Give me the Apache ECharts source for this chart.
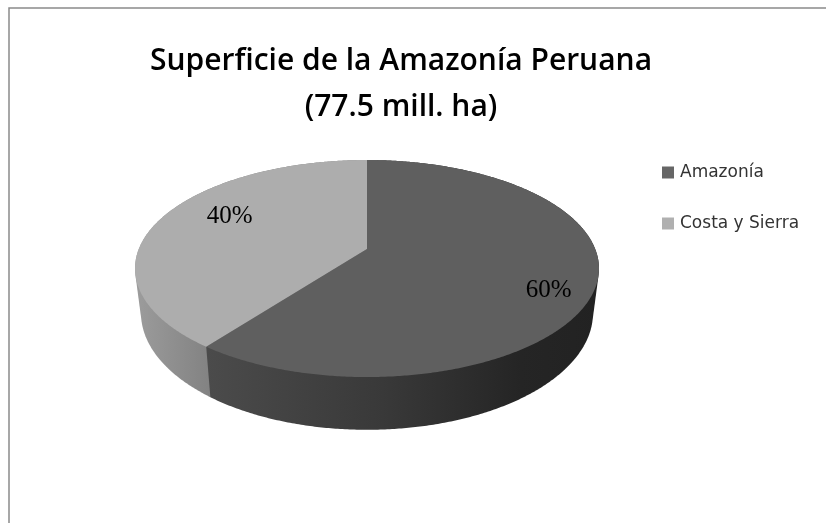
<!DOCTYPE html>
<html><head><meta charset="utf-8">
<style>html,body{margin:0;padding:0;background:#fff}#c{width:826px;height:523px}</style>
<script src="https://cdn.jsdelivr.net/npm/echarts@6/dist/echarts.min.js"></script>
</head><body><div id="c"></div>
<script>
const titleLines = ['Superficie de la Amazonía Peruana', '(77.5 mill. ha)'];
const categories = ['Amazonía', 'Costa y Sierra'];
const values = [77.5, 51];
const topColors = ['#5f5f5f', '#adadad'];
const legendColors = ['#666666', '#b0b0b0'];
const wallStops = [
  [[0, '#4b4b4b'], [0.45, '#393939'], [0.8, '#252525'], [1, '#222222']],
  [[0, '#9c9c9c'], [1, '#828282']]
];
const labelRadius = [0.83, 0.72];
const labelTurnDeg = [8, 9];

// Perspective projection of the pie's top and bottom discs
const TOP = {cx: 367, y0: 249, A: 228.2, B: 105, a: 0.18};
const BOT = {cx: 367, y0: 292, A: 222.3, B: 113, a: 0.18};
function project(p, r, deg) {
  const t = deg * Math.PI / 180, u = r * Math.sin(t), v = -r * Math.cos(t), w = 1 - p.a * v;
  return [p.cx + p.A * u / w, p.y0 + p.B * v / w];
}
function arc(p, from, to) {
  const pts = [], n = Math.ceil(Math.abs(to - from) * 2);
  for (let i = 0; i <= n; i++) pts.push(project(p, 1, from + (to - from) * i / n));
  return pts;
}
function convexHull(points) {
  const pts = points.slice().sort((a, b) => a[0] - b[0] || a[1] - b[1]);
  const cross = (o, a, b) => (a[0] - o[0]) * (b[1] - o[1]) - (a[1] - o[1]) * (b[0] - o[0]);
  const half = list => {
    const h = [];
    list.forEach(p => {
      while (h.length > 1 && cross(h[h.length - 2], h[h.length - 1], p) <= 0) h.pop();
      h.push(p);
    });
    h.pop();
    return h;
  };
  return half(pts).concat(half(pts.slice().reverse()));
}
const total = values.reduce((s, v) => s + v, 0);
function sliceStart(idx) {
  return values.slice(0, idx).reduce((s, v) => s + v, 0) / total * 360;
}
function renderSlice(idx) {
  return function (params, api) {
    const from = sliceStart(idx), to = from + api.value(0) / total * 360;
    const topArc = arc(TOP, from, to), botArc = arc(BOT, from, to);
    const wall = convexHull(topArc.concat(botArc));
    const front = topArc.concat(botArc).filter(p => p[1] > TOP.y0);
    const xs = wall.map(p => p[0]);
    const visFrom = idx === 0 ? Math.min.apply(null, front.map(p => p[0])) : Math.min.apply(null, xs);
    const visTo = idx === 0 ? Math.max.apply(null, xs) : Math.max.apply(null, front.map(p => p[0]));
    const grad = new echarts.graphic.LinearGradient(visFrom, 0, visTo, 0,
      wallStops[idx].map(s => ({offset: s[0], color: s[1]})), true);
    const mid = (from + to) / 2 + labelTurnDeg[idx];
    const lp = project(TOP, labelRadius[idx], mid);
    return {type: 'group', children: [
      {type: 'polygon', z2: 2 - idx, shape: {points: wall}, style: {fill: grad}},
      {type: 'polygon', z2: 5, shape: {points: [project(TOP, 0, 0)].concat(topArc)}, style: {fill: topColors[idx]}},
      {type: 'text', z2: 10, style: {
        text: Math.round(api.value(0) / total * 100) + '%',
        x: lp[0], y: lp[1], align: 'center', verticalAlign: 'middle',
        font: '25px "Liberation Serif"', fill: '#000'
      }}
    ]};
  };
}
const chart = echarts.init(document.getElementById('c'), null, {renderer: 'canvas'});
chart.setOption({
  animation: false,
  backgroundColor: '#fff',
  title: {
    text: titleLines.join('\n'), left: 396, top: 33, textAlign: 'center',
    textStyle: {fontFamily: 'Open Sans', fontWeight: 600, fontSize: 30, lineHeight: 46, color: '#000'}
  },
  legend: {
    orient: 'vertical', left: 662, top: 163, padding: 0, itemWidth: 12, itemHeight: 12, itemGap: 32,
    icon: 'rect', data: categories,
    textStyle: {fontFamily: 'DejaVu Sans', fontSize: 17, lineHeight: 19, color: '#333', padding: [0, 0, 0, 1]}
  },
  graphic: [{type: 'rect', silent: true, z: -1,
    shape: {x: 9, y: 8, width: 900, height: 600},
    style: {fill: 'transparent', stroke: '#8a8a8a', lineWidth: 1.5}}],
  series: categories.map((name, i) => ({
    type: 'custom', name, coordinateSystem: 'none',
    itemStyle: {color: legendColors[i]},
    renderItem: renderSlice(i),
    data: [[values[i]]], silent: true
  }))
});
</script></body></html>
